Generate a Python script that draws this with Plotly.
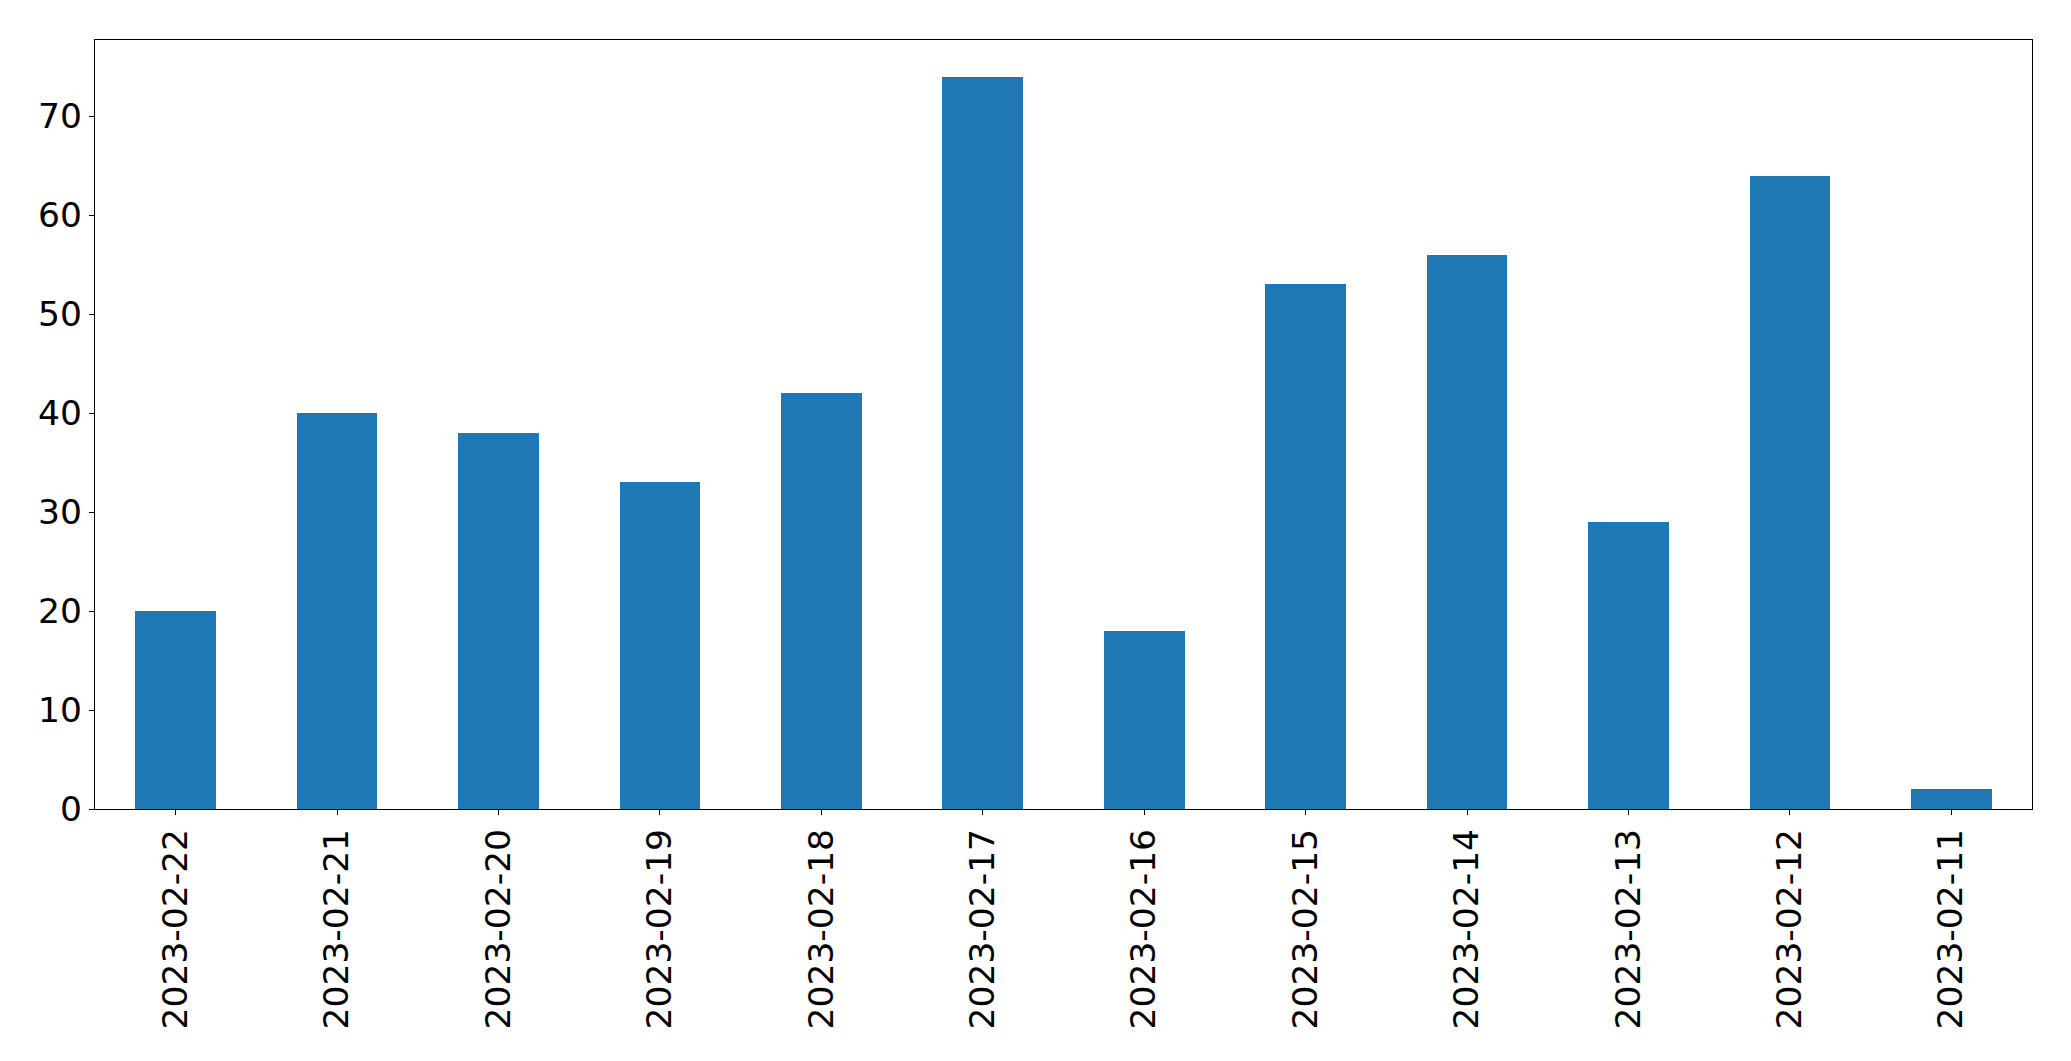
import plotly.graph_objects as go

dates = ["2023-02-22", "2023-02-21", "2023-02-20", "2023-02-19", "2023-02-18", "2023-02-17",
         "2023-02-16", "2023-02-15", "2023-02-14", "2023-02-13", "2023-02-12", "2023-02-11"]
counts = [20, 40, 38, 33, 42, 74, 18, 53, 56, 29, 64, 2]
y_ticks = [0, 10, 20, 30, 40, 50, 60, 70]

fig = go.Figure(go.Bar(x=dates, y=counts, width=0.5, marker=dict(color="#1f77b4", line=dict(width=0))))

fig.update_layout(
    width=2055, height=1045,
    margin=dict(l=86.5, r=31, t=31.5, b=244, autoexpand=False),
    plot_bgcolor="white", paper_bgcolor="white",
    font=dict(family="DejaVu Sans", size=34.5, color="black"),
    showlegend=False,
    bargap=0,
)
fig.update_xaxes(
    type="category", range=[-0.5, 11.5], tickangle=-90,
    showline=True, linecolor="black", linewidth=1.3, mirror=True,
    ticks="outside", ticklen=5, tickwidth=1.3, tickcolor="black",
    showgrid=False, zeroline=False,
)
fig.update_yaxes(
    range=[0, 77.7], tickvals=y_ticks,
    showline=True, linecolor="black", linewidth=1.3, mirror=True,
    ticks="outside", ticklen=5, tickwidth=1.3, tickcolor="black",
    showgrid=False, zeroline=False,
)

fig.write_html("out.html")
